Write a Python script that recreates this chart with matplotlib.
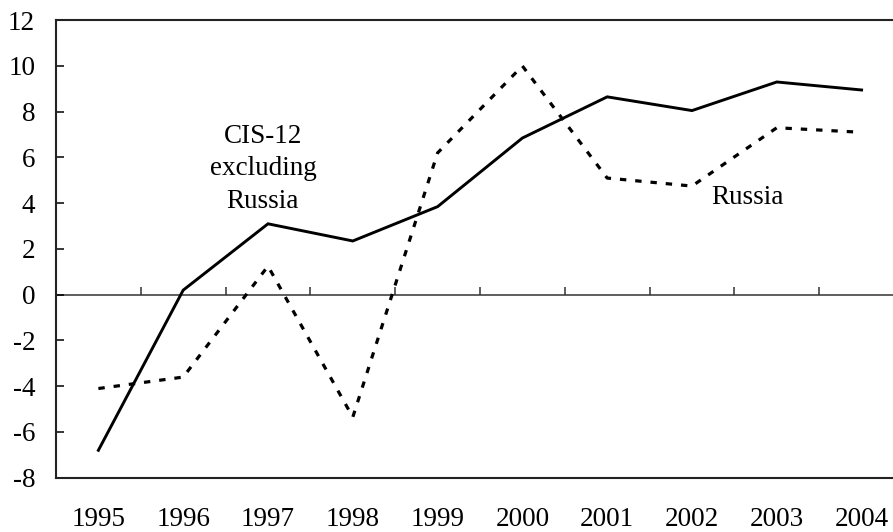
import matplotlib
matplotlib.use('Agg')
import matplotlib.pyplot as plt

years = ['1995', '1996', '1997', '1998', '1999', '2000', '2001', '2002', '2003', '2004']
cis12_ex_russia = [-6.8, 0.2, 3.1, 2.35, 3.85, 6.85, 8.65, 8.05, 9.3, 8.95]
russia = [-4.1, -3.6, 1.25, -5.35, 6.2, 10.0, 5.1, 4.75, 7.3, 7.1]

plt.rcParams.update({
    'font.family': ['Liberation Serif', 'DejaVu Serif'],
    'font.size': 19.5,
    'axes.unicode_minus': False,
})

fig = plt.figure(figsize=(8.93, 5.32), dpi=100)
# right edge of the box runs just past the image edge
ax = fig.add_axes([0.0627, 0.102, 0.9496, 0.860])

x = list(range(len(years)))
ax.plot(x, cis12_ex_russia, color='black', linewidth=2.1, solid_joinstyle='miter')
ax.plot(x, russia, color='black', linewidth=2.3, linestyle=(0, (2, 2.8)))

# zero line with category boundary ticks
ax.axhline(0, color='#333333', linewidth=1.1, zorder=1)
bounds = [i + 0.5 for i in x[:-1]]
ax.plot(bounds, [0] * len(bounds), linestyle='none', marker=2, markersize=6,
        markeredgewidth=1.1, color='#333333')

ax.set_xlim(-0.5, len(years) - 0.5)
ax.set_ylim(-8, 12)
ax.set_yticks(range(-8, 13, 2))
ax.set_xticks(x)
ax.set_xticklabels(years)
ax.tick_params(axis='x', length=0, pad=21)
ax.tick_params(axis='y', direction='in', length=6, width=1.1, pad=15)

for side in ['left', 'top', 'bottom', 'right']:
    ax.spines[side].set_linewidth(1.5)
    ax.spines[side].set_color('#222222')

ax.text(1.94, 5.5, 'CIS-12\nexcluding\nRussia', ha='center', va='center',
        linespacing=1.4)
ax.text(7.65, 4.23, 'Russia', ha='center', va='center')

fig.savefig('out.png', dpi=100)
